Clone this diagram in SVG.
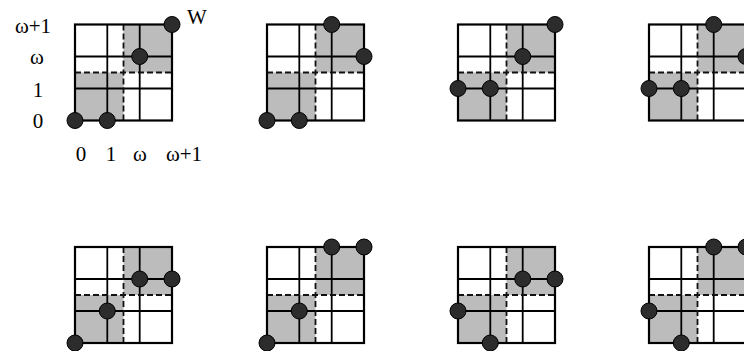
<svg xmlns="http://www.w3.org/2000/svg" width="744" height="351" viewBox="0 0 744 351">
<style>
.bg{fill:#ffffff}
.shade{fill:#bcbcbc;stroke:none}
.frame{fill:none;stroke:#000;stroke-width:2.2}
.grid{stroke:#000;stroke-width:1.8;fill:none}
.dash{stroke:#111;stroke-width:1.8;stroke-dasharray:6 3;fill:none}
.dot{fill:#2c2c2c;stroke:#000;stroke-width:1}
.lbl{font-family:"Liberation Serif","Times New Roman",serif;font-size:21px;fill:#000}
</style>
<defs>
<g id="board">
<rect class="shade" x="0" y="48" width="48.5" height="48"/>
<rect class="shade" x="48.5" y="0" width="48.5" height="48"/>
<line class="grid" x1="32.3" y1="0" x2="32.3" y2="96"/>
<line class="grid" x1="64.7" y1="0" x2="64.7" y2="96"/>
<line class="grid" x1="0" y1="32" x2="97" y2="32"/>
<line class="grid" x1="0" y1="64" x2="97" y2="64"/>
<line class="dash" x1="48.5" y1="0" x2="48.5" y2="96"/>
<line class="dash" x1="0" y1="48" x2="97" y2="48"/>
<rect class="frame" x="0" y="0" width="97" height="96"/>
</g>
</defs>
<rect class="bg" x="0" y="0" width="744" height="351"/>

<g id="labels">
<text class="lbl" x="33" y="33" text-anchor="middle">ω+1</text>
<text class="lbl" x="37" y="64" text-anchor="middle">ω</text>
<text class="lbl" x="38" y="97" text-anchor="middle">1</text>
<text class="lbl" x="38" y="128" text-anchor="middle">0</text>
<text class="lbl" x="81" y="161" text-anchor="middle">0</text>
<text class="lbl" x="111" y="161" text-anchor="middle">1</text>
<text class="lbl" x="140" y="161" text-anchor="middle">ω</text>
<text class="lbl" x="184" y="161" text-anchor="middle">ω+1</text>
<text class="lbl" x="187" y="24">W</text>
</g>

<g id="connectors"></g>

<g id="panel1" transform="translate(75,24.5)">
<use href="#board"/>
<circle class="dot" cx="0" cy="96" r="8"/>
<circle class="dot" cx="32.3" cy="96" r="8"/>
<circle class="dot" cx="64.7" cy="32" r="8"/>
<circle class="dot" cx="97" cy="0" r="8"/>
</g>
<g id="panel2" transform="translate(267,24.5)">
<use href="#board"/>
<circle class="dot" cx="0" cy="96" r="8"/>
<circle class="dot" cx="32.3" cy="96" r="8"/>
<circle class="dot" cx="64.7" cy="0" r="8"/>
<circle class="dot" cx="97" cy="32" r="8"/>
</g>
<g id="panel3" transform="translate(458,24.5)">
<use href="#board"/>
<circle class="dot" cx="0" cy="64" r="8"/>
<circle class="dot" cx="32.3" cy="64" r="8"/>
<circle class="dot" cx="64.7" cy="32" r="8"/>
<circle class="dot" cx="97" cy="0" r="8"/>
</g>
<g id="panel4" transform="translate(649,24.5)">
<use href="#board"/>
<circle class="dot" cx="0" cy="64" r="8"/>
<circle class="dot" cx="32.3" cy="64" r="8"/>
<circle class="dot" cx="64.7" cy="0" r="8"/>
<circle class="dot" cx="97" cy="32" r="8"/>
</g>

<g id="panel5" transform="translate(75,247)">
<use href="#board"/>
<circle class="dot" cx="0" cy="96" r="8"/>
<circle class="dot" cx="32.3" cy="64" r="8"/>
<circle class="dot" cx="64.7" cy="32" r="8"/>
<circle class="dot" cx="97" cy="32" r="8"/>
</g>
<g id="panel6" transform="translate(267,247)">
<use href="#board"/>
<circle class="dot" cx="0" cy="96" r="8"/>
<circle class="dot" cx="32.3" cy="64" r="8"/>
<circle class="dot" cx="64.7" cy="0" r="8"/>
<circle class="dot" cx="97" cy="0" r="8"/>
</g>
<g id="panel7" transform="translate(458,247)">
<use href="#board"/>
<circle class="dot" cx="0" cy="64" r="8"/>
<circle class="dot" cx="32.3" cy="96" r="8"/>
<circle class="dot" cx="64.7" cy="32" r="8"/>
<circle class="dot" cx="97" cy="32" r="8"/>
</g>
<g id="panel8" transform="translate(649,247)">
<use href="#board"/>
<circle class="dot" cx="0" cy="64" r="8"/>
<circle class="dot" cx="32.3" cy="96" r="8"/>
<circle class="dot" cx="64.7" cy="0" r="8"/>
<circle class="dot" cx="97" cy="0" r="8"/>
</g>
</svg>
